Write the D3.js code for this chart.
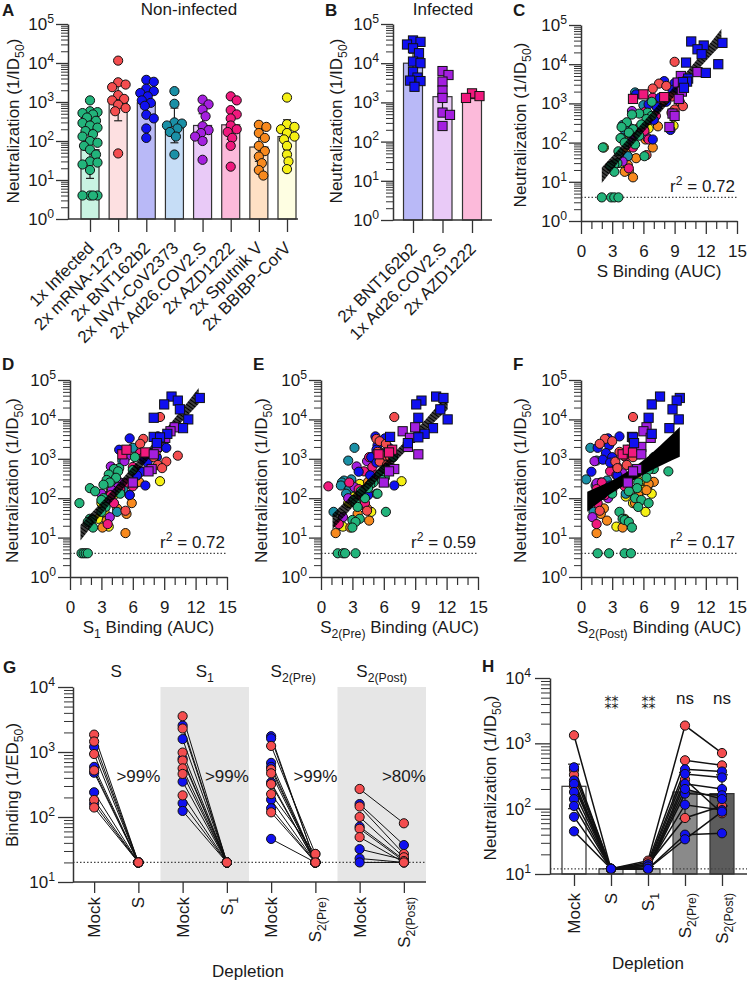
<!DOCTYPE html>
<html>
<head>
<meta charset="utf-8">
<script src="https://cdn.jsdelivr.net/npm/d3@7/dist/d3.min.js"></script>
<style>
html,body{margin:0;padding:0;background:#fff;}
svg{display:block;}
</style>
</head>
<body>
<svg id="chart" width="750" height="984"></svg>
<script>
// ================= DATA =================
const groupsA = ["1x Infected","2x mRNA-1273","2x BNT162b2","2x NVX-CoV2373","2x Ad26.COV2.S","2x AZD1222","2x Sputnik V","2x BBIBP-CorV"];
const neutInfected = [1100,580,550,520,480,400,330,290,250,220,180,150,130,100,90,75,60,45,30,28,25,18,4,4,4,4];
const neutMRNA     = [11500,3200,2800,2400,1500,1200,1100,850,700,580,48];
const neutBNT      = [3700,3300,2200,1900,1700,1400,1100,950,800,470,380,210,120];
const neutNVX      = [1900,900,300,280,250,210,170,130,45];
const neutAd26     = [1150,870,640,430,240,190,160,130,100,33];
const neutAZD      = [1400,1100,620,480,380,250,200,170,120,75,22];
const neutSputnik  = [260,230,160,120,75,55,40,27,18,13];
const neutBBIBP    = [1300,270,230,200,160,130,110,75,45,30,19];
const gmA   = [60,1050,950,250,250,260,70,130];
const errLoA = [11,330,450,90,120,110,30,60];
const errHiA = [320,3500,2000,700,500,600,150,350];

const groupsB = ["2x BNT162b2","1x Ad26.COV2.S","2x AZD1222"];
const neutInfBNT  = [38000,35000,30000,24000,18000,11000,10000,6000,4300,3600,3500,2500];
const neutInfAd26 = [6300,5000,3400,2000,1300,550,480,250];
const neutInfAZD  = [1300,1700,1450];
const gmB    = [10000,1400,1450];
const errLoB = [5000,600,1250];
const errHiB = [18000,4000,1700];

const pointColorsA = ["#22b47b","#f44d4f","#1010f0","#1a90a6","#a41fdf","#f0197d","#f7891e","#f5f014"];
const barFillsA    = ["#c9f3e2","#fde0e1","#b9b9f7","#c6ddf6","#e9caf7","#fcbada","#fee0c4","#fefee2"];
const pointColorsB = ["#1010f0","#a41fdf","#f0197d"];
const barFillsB    = ["#b9b9f7","#e9caf7","#fcbada"];

// binding (AUC) for the same samples, order matching the neutralization arrays
const xS = [
 [6.8,6.4,5.6,4.9,6.8,6.3,4.4,5.8,3.9,5.0,4.6,5.6,3.8,4.2,5.2,2.1,3.6,6.1,3.5,3.2,2.8,3.2,2.0,2.9,3.2,3.6],
 [9.0,7.5,8.2,6.9,8.8,8.0,9.5,9.8,9.0,8.7,6.3],
 [8.0,9.0,8.8,9.3,5.3,7.6,8.2,6.5,7.3,6.8,7.0,8.6,6.9],
 [5.2,6.0,4.4,4.0,4.6,4.2,4.8,3.9,4.5],
 [7.5,7.2,4.9,6.5,6.0,5.5,5.0,6.4,4.6,4.0],
 [6.9,7.8,6.2,7.2,6.6,5.8,6.1,5.4,6.5,5.0,4.6],
 [7.4,5.5,4.8,6.2,6.9,4.3,5.3,4.5,4.2,5.0],
 [7.0,8.9,6.5,5.5,5.0,4.8,4.3,2.2,4.5,3.8,4.6],
 [10.6,13.6,11.8,11.2,11.6,10.1,13.2,12.0,10.3,10.2,9.8,9.9],
 [11.2,9.6,9.3,9.7,9.4,8.8,9.0,8.5],
 [5.0,6.0,8.0]
];
const xS1 = [
 [6.2,4.7,4.2,6.0,4.6,3.7,4.4,3.5,3.8,3.2,1.9,2.4,4.8,3.2,3.0,0.9,3.4,3.0,1.9,2.1,1.7,2.2,1.1,1.3,1.5,1.7],
 [8.6,7.0,8.5,6.7,8.2,10.3,8.0,9.2,8.4,8.8,5.3],
 [8.4,5.7,8.8,9.2,4.7,7.6,8.3,7.1,7.4,6.8,6.4,7.2,5.7],
 [6.0,5.0,4.2,3.6,4.8,4.3,5.1,3.9,4.5],
 [5.4,5.2,3.9,6.4,5.0,4.6,4.0,3.0,3.5,3.8],
 [6.7,7.0,6.0,6.8,6.4,5.5,6.0,4.8,3.9,4.2,3.6],
 [6.6,5.4,4.5,5.7,5.9,4.5,5.4,3.5,3.1,5.3],
 [6.8,8.6,6.2,4.8,3.9,4.4,3.5,3.0,3.3,2.7,3.7],
 [9.7,12.4,10.3,9.0,10.5,8.0,11.3,10.8,9.3,8.0,8.6,8.3],
 [10.0,9.6,9.1,8.3,8.0,7.8,7.5,6.0],
 [5.0,5.4,7.2]
];
const xS2pre = [
 [6.9,6.3,6.5,6.0,5.9,5.6,6.1,5.8,5.0,4.7,4.5,3.8,5.4,4.2,3.1,3.3,3.5,6.2,3.7,3.0,3.3,3.0,1.6,2.1,2.3,3.3],
 [7.0,5.3,5.6,6.2,5.4,6.0,6.6,5.6,6.3,6.8,4.4],
 [5.2,6.1,5.4,6.5,5.3,6.2,4.8,5.7,5.3,3.6,4.7,7.0,4.5],
 [3.2,2.6,2.9,2.2,2.0,1.9,2.7,2.4,1.2],
 [5.0,4.4,3.4,5.7,4.8,3.2,3.9,5.3,2.6,2.1],
 [5.8,4.6,4.9,4.1,5.2,2.7,0.7,3.6,3.9,4.2,1.7],
 [4.5,2.4,3.8,4.1,3.4,4.4,3.5,4.6,2.8,1.4],
 [5.7,7.7,3.7,2.9,3.3,4.5,3.0,2.6,4.8,3.5,2.1],
 [11.0,11.7,9.6,9.1,11.4,9.3,12.1,10.7,9.9,6.6,9.3,8.3],
 [9.0,7.8,8.5,8.3,9.3,7.0,6.5,6.0],
 [5.5,6.8,6.5]
];
const xS2post = [
 [7.0,6.1,7.0,6.5,8.4,5.0,6.3,4.4,5.5,3.3,5.4,4.6,3.0,5.2,5.8,6.5,5.5,3.7,4.0,4.2,4.6,4.9,1.6,2.7,4.2,4.8],
 [5.0,2.3,3.0,1.8,3.7,4.1,5.0,3.3,4.4,3.5,1.8],
 [3.7,2.6,2.7,1.6,4.5,2.4,3.0,2.1,2.8,1.0,3.5,2.8,2.0],
 [0.9,1.5,0.5,2.5,1.9,1.4,2.2,4.3,1.2],
 [4.3,1.3,3.2,4.0,1.5,2.4,3.0,2.0,2.6,1.1],
 [5.0,4.3,3.5,2.8,3.4,2.0,4.2,1.5,2.3,1.6,1.5],
 [7.0,6.5,6.3,5.5,5.2,2.2,1.9,2.5,4.0,1.5],
 [5.6,5.6,6.0,6.4,6.0,6.8,4.3,5.0,6.2,4.2,3.4],
 [7.6,9.5,9.2,6.8,8.8,6.5,9.4,8.5,6.8,4.9,5.0,5.1],
 [6.3,6.0,6.7,5.8,5.8,5.4,5.0,4.5],
 [4.0,4.5,5.0]
];
// regression 95% CI bands
const bandSx = [2.0,5,8,11,13.5],   bandSlo = [9.3,89,760,6200,31600],  bandShi = [23,170,1380,11700,79000];
const bandS1x = [1.0,4,7,10,12.3],  bandS1lo = [8.5,81,690,5600,25000],  bandS1hi = [21,155,1260,10700,63000];
const bandS2px = [1.1,4,7,10,12.1], bandS2plo = [16,115,790,5250,17800], bandS2phi = [40,220,1450,10000,44700];
const bandS2qx = [0.6,2,3.5,5,6.5,8,9.5], bandS2qlo = [45,89,166,282,468,741,1122], bandS2qhi = [145,214,331,589,1175,2692,6457];
const r2Values = ["0.72","0.72","0.59","0.17"];
const neutLOD = 4;

// G: binding before/after depletion
const depTitles = ["S","S1","S2(Pre)","S2(Post)"];
const depPercent = [">99%",">99%",">99%",">80%"];
const gMockS      = [1850,1450,1200,930,590,520,480,240,183,160,140];
const gDepS       = [20,20,20,20,20,20,20,20,20,20,20];
const gColS       = ["r","r","b","r","b","r","b","b","r","b","r"];
const gMockS1     = [3550,2550,2300,1580,980,790,740,560,460,350,215,163,124];
const gDepS1      = [20,20,20,20,20,20,20,20,20,20,20,20,20];
const gColS1      = ["r","b","r","b","r","b","r","r","r","b","r","b","b"];
const gMockS2pre  = [1750,1620,1240,680,590,540,470,340,320,225,185,136,118,46];
const gDepS2pre   = [20,20,27,20,20,20,20,20,20,27,20,20,20,20];
const gColS2pre   = ["b","b","r","b","b","r","r","b","r","r","b","b","r","b"];
const gMockS2post = [270,158,145,100,71,66,49,32,23,20];
const gDepS2post  = [80,37,27,24,22,21,20,22,20,20];
const gColS2post  = ["r","b","r","r","b","r","r","b","b","b"];
const bindLOD = 20;

// H: neutralization after depletion
const hCats = ["Mock","S","S1","S2(Pre)","S2(Post)"];
const hSamples = [
 [1330,12,16,1870,710],[430,12,14,400,370],[390,12,15,550,460],[330,12,12,280,85],
 [270,12,13,340,300],[240,12,12,240,200],[220,12,14,72,110],[180,12,12,170,160],
 [140,12,12,200,140],[110,12,13,115,95],[75,12,12,40,42],[45,12,12,34,90]
];
const hSampleCol = ["r","b","r","r","b","b","r","b","b","b","b","b"];
const hBars  = [220,12,12,180,170];
const hErrLo = [100,12,12,70,110];
const hErrHi = [480,12,13,360,330];
const hBarFills = ["#ffffff","#d2d2d2","#b4b4b4","#8a8a8a","#5c5c5c"];
const hSig = ["","⁑⁑","⁑⁑","ns","ns"];
const neutLODH = 12;
const RED = "#f44d4f", BLUE = "#1010f0";

// ================= DRAWING =================
const FONT = "'Liberation Sans', Arial, Helvetica, sans-serif";
const FS = 17;
const AXC = "#333";
const svg = d3.select("#chart").attr("font-family", FONT);

const defs = svg.append("defs");
const pat = defs.append("pattern").attr("id","hatch").attr("patternUnits","userSpaceOnUse")
  .attr("width",3).attr("height",3).attr("patternTransform","rotate(-54)");
pat.append("line").attr("x1",1.5).attr("y1",-1).attr("x2",1.5).attr("y2",4).attr("stroke","#000").attr("stroke-width",2.5);

function rich(t, parts, fs) {
  let off = 0;
  parts.forEach(([s,k]) => {
    const sp = t.append("tspan").text(s);
    let target = 0, size = fs;
    if (k === "sub") { size = fs*0.72; target = fs*0.3; }
    if (k === "sup") { size = fs*0.72; target = -fs*0.42; }
    sp.attr("font-size", size);
    if (target !== off) { sp.attr("dy", target - off); off = target; }
  });
}
function label(g, x, y, parts, o = {}) {
  const fs = o.fs || FS;
  const t = g.append("text").attr("font-size", fs).attr("fill", "#1a1a1a")
    .attr("text-anchor", o.anchor || "start");
  if (o.transform) t.attr("transform", o.transform); else t.attr("x", x).attr("y", y);
  if (o.dy) t.attr("dy", o.dy);
  if (o.weight) t.attr("font-weight", o.weight);
  if (o.family) t.attr("font-family", o.family);
  rich(t, typeof parts === "string" ? [[parts, "n"]] : parts, fs);
  return t;
}
function yTitle(g, x, yc, parts) {
  label(g, 0, 0, parts, {transform: `translate(${x},${yc}) rotate(-90)`, anchor: "middle", dy: "0.35em"});
}
const NEUT = [["Neutralization (1/ID","n"],["50","sub"],[")","n"]];
function subParts(s) {
  if (s === "Mock") return [["Mock","n"]];
  return s.length > 1 ? [["S","n"],[s.slice(1),"sub"]] : [[s,"n"]];
}

function yLog(g, y, x0, majors, tl = 12, pad = 2, ml = 7) {
  const minors = [];
  majors.slice(0, -1).forEach(m => { for (let k = 2; k < 10; k++) minors.push(m * k); });
  const gm = g.append("g").attr("transform", `translate(${x0},0)`)
    .call(d3.axisLeft(y).tickValues(minors).tickSize(ml).tickFormat(() => ""));
  gm.select(".domain").remove();
  gm.selectAll("line").attr("stroke", AXC).attr("stroke-width", 1);
  const ga = g.append("g").attr("transform", `translate(${x0},0)`)
    .call(d3.axisLeft(y).tickValues(majors).tickSize(tl).tickSizeOuter(0).tickPadding(pad).tickFormat(() => ""));
  ga.selectAll("line").attr("stroke", AXC).attr("stroke-width", 1.3);
  ga.select(".domain").attr("stroke", AXC).attr("stroke-width", 1.5);
  ga.attr("font-family", FONT).attr("font-size", FS);
  ga.selectAll(".tick text").attr("fill", "#1a1a1a").each(function(d) {
    const t = d3.select(this);
    rich(t, [["10","n"],[String(Math.round(Math.log10(d))),"sup"]], FS);
  });
}
function catAxis(g, x, yb, x0, x1, tl) {
  const a = g.append("g").attr("transform", `translate(0,${yb})`)
    .call(d3.axisBottom(x).tickSize(tl).tickFormat(() => ""));
  a.select(".domain").remove();
  a.selectAll("line").attr("stroke", AXC).attr("stroke-width", 1.3);
  g.append("line").attr("x1", x0).attr("x2", x1).attr("y1", yb).attr("y2", yb)
    .attr("stroke", AXC).attr("stroke-width", 1.5);
}
function marker(g, shape, cx, cy, col, r = 4.6) {
  if (shape === "square")
    g.append("rect").attr("x", cx - r).attr("y", cy - r).attr("width", 2*r).attr("height", 2*r)
      .attr("fill", col).attr("stroke", "#111").attr("stroke-width", 1);
  else
    g.append("circle").attr("cx", cx).attr("cy", cy).attr("r", r)
      .attr("fill", col).attr("stroke", "#111").attr("stroke-width", 1);
}
function swarm(vals, y, cx, minD, maxOff) {
  const pts = vals.map(v => ({v, py: y(v)})).sort((a, b) => a.py - b.py);
  const placed = [];
  const cands = [0];
  for (let k = 1; k <= 12; k++) cands.push(k*1.5, -k*1.5);
  pts.forEach(p => {
    let best = 0, bestScore = -1;
    for (const o of cands) {
      if (Math.abs(o) > maxOff) continue;
      const d = placed.length ? d3.min(placed, q => Math.hypot(q.px - (cx + o), q.py - p.py)) : Infinity;
      if (d >= minD) { best = o; break; }
      if (d > bestScore) { bestScore = d; best = o; }
    }
    p.px = cx + best;
    placed.push(p);
  });
  return pts;
}
function barSwarm(g, x, y, cats, vals, gm, lo, hi, cols, fills, shape, bw) {
  const yb = y.range()[0];
  cats.forEach((c, i) => {
    g.append("rect").attr("x", x(c) - bw/2).attr("width", bw).attr("y", y(gm[i])).attr("height", yb - y(gm[i]))
      .attr("fill", fills[i]).attr("stroke", AXC).attr("stroke-width", 1.2);
  });
  cats.forEach((c, i) => {
    const cx = x(c);
    g.append("line").attr("x1", cx).attr("x2", cx).attr("y1", y(lo[i])).attr("y2", y(hi[i])).attr("stroke", "#222").attr("stroke-width", 1.2);
    [lo[i], hi[i]].forEach(v => g.append("line").attr("x1", cx - 4).attr("x2", cx + 4).attr("y1", y(v)).attr("y2", y(v)).attr("stroke", "#222").attr("stroke-width", 1.2));
  });
  cats.forEach((c, i) => {
    swarm(vals[i], y, x(c), 7, bw/2 - 1).forEach(p => marker(g, shape, p.px, p.py, cols[i]));
  });
}

// ---------- Panel A ----------
{
  const g = svg.append("g");
  const y = d3.scaleLog().domain([1, 1e5]).range([219, 24]);
  const x = d3.scalePoint().domain(groupsA).range([90, 287]);
  const neutA = [neutInfected, neutMRNA, neutBNT, neutNVX, neutAd26, neutAZD, neutSputnik, neutBBIBP];
  barSwarm(g, x, y, groupsA, neutA, gmA, errLoA, errHiA, pointColorsA, barFillsA, "circle", 18);
  yLog(g, y, 68, [1,10,100,1e3,1e4,1e5]);
  catAxis(g, x, 219, 68, 298, 13);
  groupsA.forEach(c => label(g, 0, 0, c, {transform: `translate(${x(c)+5},${249}) rotate(-45)`, anchor: "end"}));
  yTitle(g, 13, 121, NEUT);
  label(g, 189, 15, "Non-infected", {anchor: "middle"});
  label(g, 2, 16, "A", {weight: "bold", fs: 17});
}
// ---------- Panel B ----------
{
  const g = svg.append("g");
  const y = d3.scaleLog().domain([1, 1e5]).range([220, 24]);
  const x = d3.scalePoint().domain(groupsB).range([413, 472]);
  barSwarm(g, x, y, groupsB, [neutInfBNT, neutInfAd26, neutInfAZD], gmB, errLoB, errHiB, pointColorsB, barFillsB, "square", 19);
  yLog(g, y, 393, [1,10,100,1e3,1e4,1e5]);
  catAxis(g, x, 220, 393, 492, 13);
  groupsB.forEach(c => label(g, 0, 0, c, {transform: `translate(${x(c)+5},${250}) rotate(-45)`, anchor: "end"}));
  yTitle(g, 336, 121, NEUT);
  label(g, 443, 15, "Infected", {anchor: "middle"});
  label(g, 325, 16, "B", {weight: "bold", fs: 17});
}
// ---------- Panels C-F ----------
const neutAll = [neutInfected, neutMRNA, neutBNT, neutNVX, neutAd26, neutAZD, neutSputnik, neutBBIBP, neutInfBNT, neutInfAd26, neutInfAZD];
const colorsAll = pointColorsA.concat(pointColorsB);
const scatterCfg = [
  {xs: xS, bx: bandSx, blo: bandSlo, bhi: bandShi, hatch: true, r2: r2Values[0], x0: 581, x1: 737, yb: 221, yt: 25,
   xl: [["S Binding (AUC)","n"]], ytx: 520, letter: "C", lx: 513, ly: 16},
  {xs: xS1, bx: bandS1x, blo: bandS1lo, bhi: bandS1hi, hatch: true, r2: r2Values[1], x0: 70, x1: 227, yb: 577, yt: 380,
   xl: [["S","n"],["1","sub"],[" Binding (AUC)","n"]], ytx: 12, letter: "D", lx: 2, ly: 370},
  {xs: xS2pre, bx: bandS2px, blo: bandS2plo, bhi: bandS2phi, hatch: true, r2: r2Values[2], x0: 321, x1: 478, yb: 577, yt: 380,
   xl: [["S","n"],["2(Pre)","sub"],[" Binding (AUC)","n"]], ytx: 261, letter: "E", lx: 253, ly: 370},
  {xs: xS2post, bx: bandS2qx, blo: bandS2qlo, bhi: bandS2qhi, hatch: false, r2: r2Values[3], x0: 581, x1: 737, yb: 577, yt: 380,
   xl: [["S","n"],["2(Post)","sub"],[" Binding (AUC)","n"]], ytx: 520, letter: "F", lx: 513, ly: 370}
];
scatterCfg.forEach(cfg => {
  const g = svg.append("g");
  const x = d3.scaleLinear().domain([0, 15]).range([cfg.x0, cfg.x1]);
  const y = d3.scaleLog().domain([1, 1e5]).range([cfg.yb, cfg.yt]);
  g.append("line").attr("x1", x(0)).attr("x2", x(15)).attr("y1", y(neutLOD)).attr("y2", y(neutLOD))
    .attr("stroke", "#444").attr("stroke-width", 1.2).attr("stroke-dasharray", "1.5,2");
  const order = [7,6,3,4,5,2,1,0];
  order.forEach(gi => {
    const n = Math.min(cfg.xs[gi].length, neutAll[gi].length);
    for (let i = 0; i < n; i++) marker(g, "circle", x(cfg.xs[gi][i]), y(neutAll[gi][i]), colorsAll[gi]);
  });
  const band = cfg.bx.map((v, i) => [v, cfg.blo[i], cfg.bhi[i]]);
  g.append("path").datum(band)
    .attr("d", d3.area().x(d => x(d[0])).y0(d => y(d[1])).y1(d => y(d[2])).curve(d3.curveMonotoneX))
    .attr("fill", cfg.hatch ? "url(#hatch)" : "#000");
  [10, 9, 8].forEach(gi => {
    const n = Math.min(cfg.xs[gi].length, neutAll[gi].length);
    for (let i = 0; i < n; i++) marker(g, "square", x(cfg.xs[gi][i]), y(neutAll[gi][i]), colorsAll[gi]);
  });
  yLog(g, y, cfg.x0, [1,10,100,1e3,1e4,1e5]);
  const minorX = d3.range(1, 15).filter(v => v % 3 !== 0);
  const am = g.append("g").attr("transform", `translate(0,${cfg.yb})`)
    .call(d3.axisBottom(x).tickValues(minorX).tickSize(8).tickFormat(() => ""));
  am.select(".domain").remove();
  am.selectAll("line").attr("stroke", AXC).attr("stroke-width", 1.2);
  const ax = g.append("g").attr("transform", `translate(0,${cfg.yb})`)
    .call(d3.axisBottom(x).tickValues([0,3,6,9,12,15]).tickSize(13).tickSizeOuter(0).tickPadding(11));
  ax.selectAll("line").attr("stroke", AXC).attr("stroke-width", 1.3);
  ax.select(".domain").attr("stroke", AXC).attr("stroke-width", 1.5);
  ax.attr("font-family", FONT).attr("font-size", FS);
  ax.selectAll("text").attr("fill", "#1a1a1a");
  label(g, (cfg.x0 + cfg.x1) / 2, cfg.yb + 56, cfg.xl, {anchor: "middle"});
  yTitle(g, cfg.ytx, (cfg.yb + cfg.yt) / 2 + 2, NEUT);
  label(g, cfg.x1 - 2, y(neutLOD) - 5, [["r","n"],["2","sup"],[" = " + cfg.r2,"n"]], {anchor: "end"});
  label(g, cfg.lx, cfg.ly, cfg.letter, {weight: "bold", fs: 17});
});

// ---------- Panel G ----------
{
  const g = svg.append("g");
  const y = d3.scaleLog().domain([10, 1e4]).range([882, 687]);
  const x = d3.scalePoint().domain(d3.range(8)).range([72, 426]).padding(0.5);
  const step = x.step();
  [1, 3].forEach(k => {
    g.append("rect").attr("x", x(2*k) - step/2).attr("width", 2*step).attr("y", y(1e4)).attr("height", y(10) - y(1e4)).attr("fill", "#e6e6e6");
  });
  g.append("line").attr("x1", 73).attr("x2", 426).attr("y1", y(bindLOD)).attr("y2", y(bindLOD))
    .attr("stroke", "#444").attr("stroke-width", 1.2).attr("stroke-dasharray", "1.5,2");
  const sets = [[gMockS, gDepS, gColS], [gMockS1, gDepS1, gColS1], [gMockS2pre, gDepS2pre, gColS2pre], [gMockS2post, gDepS2post, gColS2post]];
  sets.forEach(([m, d, c], k) => {
    const xa = x(2*k), xb = x(2*k + 1);
    m.forEach((v, i) => g.append("line").attr("x1", xa).attr("y1", y(v)).attr("x2", xb).attr("y2", y(d[i])).attr("stroke", "#111").attr("stroke-width", 1));
    const idx = d3.range(m.length).sort((a, b) => (c[a] === "b" ? 0 : 1) - (c[b] === "b" ? 0 : 1));
    idx.forEach(i => marker(g, "circle", xa, y(m[i]), c[i] === "r" ? RED : BLUE));
    idx.forEach(i => marker(g, "circle", xb, y(d[i]), c[i] === "r" ? RED : BLUE));
    label(g, (xa + xb) / 2, 677, subParts(depTitles[k]), {anchor: "middle"});
    label(g, xb, 782, depPercent[k], {anchor: "middle"});
  });
  yLog(g, y, 73, [10, 100, 1e3, 1e4], 15, 3, 9);
  catAxis(g, x, 882, 73, 426, 11);
  const tickLabels = [];
  depTitles.forEach(t => { tickLabels.push(subParts("Mock")); tickLabels.push(subParts(t)); });
  tickLabels.forEach((p, i) => label(g, 0, 0, p, {transform: `translate(${x(i)},${897}) rotate(-90)`, anchor: "end", dy: "0.35em"}));
  label(g, 248, 977, "Depletion", {anchor: "middle"});
  yTitle(g, 12, 785, [["Binding (1/ED","n"],["50","sub"],[")","n"]]);
  label(g, 3, 673, "G", {weight: "bold", fs: 17});
}
// ---------- Panel H ----------
{
  const g = svg.append("g");
  const y = d3.scaleLog().domain([10, 1e4]).range([874, 678]);
  const x = d3.scalePoint().domain(d3.range(5)).range([555.5, 740.5]).padding(0.5);
  const bw = 24;
  hBars.forEach((v, i) => g.append("rect").attr("x", x(i) - bw/2).attr("width", bw).attr("y", y(v)).attr("height", y(10) - y(v))
    .attr("fill", hBarFills[i]).attr("stroke", AXC).attr("stroke-width", 1.2));
  g.append("line").attr("x1", 550).attr("x2", 747).attr("y1", y(neutLODH)).attr("y2", y(neutLODH))
    .attr("stroke", "#444").attr("stroke-width", 1.2).attr("stroke-dasharray", "1.5,2");
  hBars.forEach((v, i) => {
    if (hErrHi[i] > hErrLo[i]) {
      g.append("line").attr("x1", x(i)).attr("x2", x(i)).attr("y1", y(hErrLo[i])).attr("y2", y(hErrHi[i])).attr("stroke", "#222").attr("stroke-width", 1.2);
      [hErrLo[i], hErrHi[i]].forEach(e => g.append("line").attr("x1", x(i) - 6).attr("x2", x(i) + 6).attr("y1", y(e)).attr("y2", y(e)).attr("stroke", "#222").attr("stroke-width", 1.2));
    }
  });
  const line = d3.line().x((d, i) => x(i)).y(d => y(d));
  hSamples.forEach(s => g.append("path").attr("d", line(s)).attr("fill", "none").attr("stroke", "#111").attr("stroke-width", 1.5));
  const idx = d3.range(hSamples.length).sort((a, b) => (hSampleCol[a] === "r" ? 0 : 1) - (hSampleCol[b] === "r" ? 0 : 1));
  idx.forEach(si => hSamples[si].forEach((v, i) => marker(g, "circle", x(i), y(v), hSampleCol[si] === "r" ? RED : BLUE)));
  yLog(g, y, 550, [10, 100, 1e3, 1e4], 15, 4, 9);
  catAxis(g, x, 874, 550, 747, 12);
  hCats.forEach((c, i) => label(g, 0, 0, subParts(c), {transform: `translate(${x(i)},${893}) rotate(-90)`, anchor: "end", dy: "0.35em"}));
  hSig.forEach((s, i) => {
    if (!s) return;
    if (s === "ns") label(g, x(i), 704, s, {anchor: "middle"});
    else label(g, x(i) + 0.5, 709, s, {anchor: "middle", fs: 14, family: "'DejaVu Sans', 'Noto Sans', sans-serif"});
  });
  label(g, 648, 969, "Depletion", {anchor: "middle"});
  yTitle(g, 490, 778, NEUT);
  label(g, 482, 672, "H", {weight: "bold", fs: 17});
}
</script>
</body>
</html>
